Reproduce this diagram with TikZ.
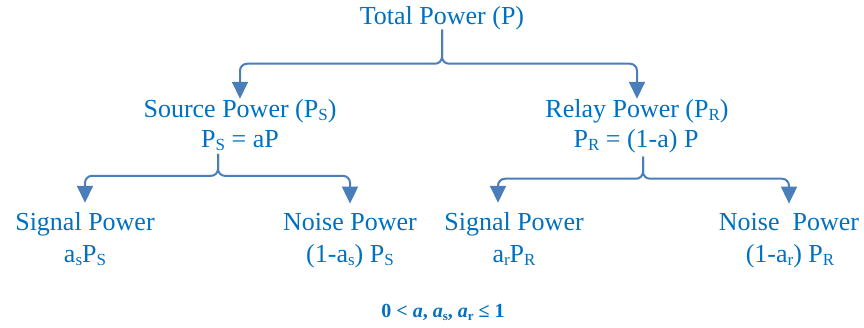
\documentclass[tikz,border=0pt]{standalone}
\usepackage{fontspec}
\setmainfont{Liberation Serif}
\usepackage{xcolor}
\usetikzlibrary{arrows.meta}
\definecolor{testo}{HTML}{0070C0}
\definecolor{linea}{HTML}{4A7EBB}
\newcommand{\pedice}[2][17]{{\fontsize{#1}{#1}\selectfont\raisebox{-2.5pt}{#2}}}

\begin{document}
\begin{tikzpicture}[x=1pt, y=-1pt,
    voce/.style={text=testo, font=\fontsize{26}{30}\selectfont, inner sep=0pt, anchor=base},
    graffa/.style={draw=linea, line width=2pt, rounded corners=7pt,
        -{Triangle[width=16pt,length=17pt]}}]
    \useasboundingbox (0,0) rectangle (864,328);
    % Livello 1
    \node[voce] (totale) at (442,25) {Total Power (P)};
    % Livello 2
    \node[voce] (sorg) at (240,118) {Source Power (P\pedice{S})};
    \node[voce] (sorgeq) at (240,148) {P\pedice{S} = aP};
    \node[voce] (rele) at (637,118) {Relay Power (P\pedice{R})};
    \node[voce] (releeq) at (636,148) {P\pedice{R} = (1-a) P};
    % Livello 3
    \node[voce] (ssig) at (85,231) {Signal Power};
    \node[voce] (ssigv) at (85,263) {a\pedice{s}P\pedice{S}};
    \node[voce] (srum) at (350,231) {Noise Power};
    \node[voce] (srumv) at (350,263) {(1-a\pedice{s}) P\pedice{S}};
    \node[voce] (rsig) at (514,231) {Signal Power};
    \node[voce] (rsigv) at (514,263) {a\pedice{r}P\pedice{R}};
    \node[voce] (rrum) at (789,231) {Noise~~Power};
    \node[voce] (rrumv) at (790,263) {(1-a\pedice{r}) P\pedice{R}};
    % Vincolo
    \node[voce, font=\fontsize{20}{24}\selectfont\bfseries] (vincolo) at (443,318)
        {0 < \textit{a}, \textit{a}\pedice[13]{s}, \textit{a}\pedice[13]{r} ≤ 1};
    % Graffe
    \draw[graffa, shorten >=1pt] ([yshift=1pt]totale.south) -- ++(0,34) -| (sorg.north);
    \draw[graffa, shorten >=1pt] ([yshift=1pt]totale.south) -- ++(0,34) -| (rele.north);
    \draw[graffa, shorten >=10pt] ([xshift=-22pt,yshift=-3pt]sorgeq.south) -- ++(0,22) -| (ssig.north);
    \draw[graffa, shorten >=10pt] ([xshift=-22pt,yshift=-3pt]sorgeq.south) -- ++(0,22) -| (srum.north);
    \draw[graffa, shorten >=10pt] ([xshift=7pt,yshift=-3pt]releeq.south) -- ++(0,22) -| ([xshift=-16pt]rsig.north);
    \draw[graffa, shorten >=10pt] ([xshift=7pt,yshift=-3pt]releeq.south) -- ++(0,22) -| (rrum.north);
\end{tikzpicture}
\end{document}
